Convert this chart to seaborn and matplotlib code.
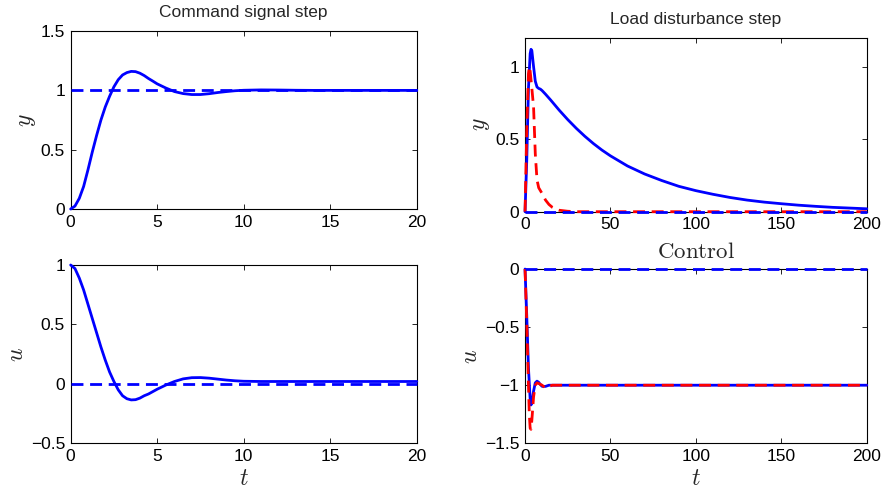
import matplotlib
matplotlib.use("Agg")
import matplotlib.pyplot as plt
from matplotlib.ticker import FuncFormatter, FixedLocator
import seaborn as sns

# ---------------- Command signal step ----------------
t_cmd = [0, 0.25, 0.5, 0.75, 1.0, 1.25, 1.5, 1.75, 2.0, 2.25, 2.5, 2.75,
         3.0, 3.25, 3.5, 3.75, 4.0, 4.25, 4.5, 4.75, 5.0, 5.5, 6.0, 6.5,
         7.0, 7.5, 8.0, 8.5, 9.0, 9.5, 10, 11, 12, 13, 14, 15, 16, 17, 18,
         19, 20]
y_cmd = [0.0, 0.025, 0.09, 0.19, 0.33, 0.48, 0.62, 0.75, 0.86, 0.95, 1.03,
         1.09, 1.13, 1.15, 1.16, 1.158, 1.145, 1.125, 1.10, 1.078, 1.055,
         1.02, 0.99, 0.973, 0.965, 0.965, 0.972, 0.982, 0.99, 0.997, 1.001,
         1.004, 1.003, 1.001, 1.0, 1.0, 1.0, 1.0, 1.0, 1.0, 1.0]
u_cmd = [1.0, 0.97, 0.89, 0.79, 0.67, 0.55, 0.43, 0.31, 0.20, 0.10, 0.02,
         -0.05, -0.10, -0.125, -0.135, -0.133, -0.12, -0.10, -0.085,
         -0.065, -0.045, -0.01, 0.02, 0.042, 0.052, 0.053, 0.048, 0.04,
         0.032, 0.026, 0.022, 0.02, 0.02, 0.02, 0.02, 0.02, 0.02, 0.02,
         0.02, 0.02, 0.02]
t_cmd_ref = [0, 20]
r_cmd = [1, 1]
uff_cmd = [0, 0]

# ---------------- Load disturbance step ----------------
t_load_a = [0, 1, 2, 3, 3.5, 4, 5, 6, 7, 8, 9, 10, 12, 15, 20, 25, 30, 35,
            40, 45, 50, 60, 70, 80, 90, 100, 110, 120, 130, 140, 150, 160,
            170, 180, 190, 200]
y_load_a = [0.0, 0.35, 0.85, 1.09, 1.12, 1.11, 1.0, 0.9, 0.86, 0.85, 0.845,
            0.835, 0.81, 0.77, 0.70, 0.635, 0.575, 0.52, 0.47, 0.425, 0.385,
            0.315, 0.26, 0.215, 0.175, 0.145, 0.12, 0.098, 0.08, 0.066,
            0.055, 0.045, 0.037, 0.03, 0.025, 0.02]
t_load_b = [0, 1, 2, 2.5, 3, 4, 5, 6, 7, 8, 9, 10, 12, 14, 16, 18, 20, 25,
            30, 200]
y_load_b = [0.0, 0.55, 0.95, 1.0, 0.97, 0.85, 0.72, 0.40, 0.22, 0.165,
            0.145, 0.125, 0.08, 0.05, 0.03, 0.018, 0.01, 0.003, 0.0, 0.0]

t_ctl_a = [0, 1, 2, 3, 3.5, 4, 5, 6, 7, 8, 9, 10, 12, 14, 200]
u_ctl_a = [0.0, -0.4, -0.85, -1.12, -1.17, -1.15, -1.05, -0.98, -0.965,
           -0.975, -0.995, -1.01, -1.01, -1.0, -1.0]
t_ctl_b = [0, 1, 2, 2.5, 3, 3.5, 4, 5, 6, 7, 8, 10, 12, 14, 16, 200]
u_ctl_b = [0.0, -0.45, -1.0, -1.25, -1.37, -1.38, -1.3, -1.1, -1.0, -0.98,
           -0.985, -1.0, -1.025, -1.01, -1.0, -1.0]
t_load_ref = [0, 200]
r_load = [0, 0]

# ---------------- style ----------------
sns.set_style("ticks")
plt.rcParams["font.family"] = ["Liberation Sans", "DejaVu Sans"]
plt.rcParams["mathtext.fontset"] = "cm"
plt.rcParams["xtick.direction"] = "in"
plt.rcParams["ytick.direction"] = "in"
plt.rcParams["xtick.top"] = True
plt.rcParams["ytick.right"] = True
plt.rcParams["axes.linewidth"] = 0.8
plt.rcParams["axes.edgecolor"] = "black"

BLUE = "#0000ff"
RED = "#ff0000"
LW = 2.0
DASH = (0, (4.3, 2.4))
TICK_FS = 12.5

fig = plt.figure(figsize=(8.83, 4.93), dpi=100)
ax_tl = fig.add_axes([0.080, 0.576, 0.392, 0.361])
ax_tr = fig.add_axes([0.5946, 0.5706, 0.387, 0.353])
ax_bl = fig.add_axes([0.080, 0.1008, 0.392, 0.3617])
ax_br = fig.add_axes([0.5946, 0.1008, 0.387, 0.3535])

fmt = FuncFormatter(lambda v, p: ("%g" % v).replace("-", "\u2212"))


def line(ax, x, y, color, dashed=False):
    kw = dict(color=color, linewidth=LW, clip_on=False, zorder=3,
              estimator=None, sort=False)
    if dashed:
        kw["linestyle"] = DASH
    sns.lineplot(x=x, y=y, ax=ax, **kw)


# top left: output for command signal step
line(ax_tl, t_cmd_ref, r_cmd, BLUE, dashed=True)
line(ax_tl, t_cmd, y_cmd, BLUE)
ax_tl.set_xlim(0, 20)
ax_tl.set_ylim(0, 1.5)
ax_tl.yaxis.set_major_locator(FixedLocator([0, 0.5, 1, 1.5]))
ax_tl.set_title("Command signal step", fontsize=12.5, pad=10)
ax_tl.set_ylabel(r"$y$", fontsize=17, labelpad=2)

# bottom left: control signal for command signal step
line(ax_bl, t_cmd_ref, uff_cmd, BLUE, dashed=True)
line(ax_bl, t_cmd, u_cmd, BLUE)
ax_bl.set_xlim(0, 20)
ax_bl.set_ylim(-0.5, 1)
ax_bl.yaxis.set_major_locator(FixedLocator([-0.5, 0, 0.5, 1]))
ax_bl.set_ylabel(r"$u$", fontsize=17, labelpad=2)
ax_bl.set_xlabel(r"$t$", fontsize=17, labelpad=3)

# top right: output for load disturbance step
line(ax_tr, t_load_a, y_load_a, BLUE)
line(ax_tr, t_load_b, y_load_b, RED, dashed=True)
line(ax_tr, t_load_ref, r_load, BLUE, dashed=True)
ax_tr.set_xlim(0, 200)
ax_tr.set_ylim(0, 1.2)
ax_tr.yaxis.set_major_locator(FixedLocator([0, 0.5, 1]))
ax_tr.set_title("Load disturbance step", fontsize=12.5, pad=10)
ax_tr.set_ylabel(r"$y$", fontsize=17, labelpad=2)

# bottom right: control signal for load disturbance step
line(ax_br, t_ctl_a, u_ctl_a, BLUE)
line(ax_br, t_ctl_b, u_ctl_b, RED, dashed=True)
line(ax_br, t_load_ref, r_load, BLUE, dashed=True)
ax_br.set_xlim(0, 200)
ax_br.set_ylim(-1.5, 0)
ax_br.yaxis.set_major_locator(FixedLocator([-1.5, -1, -0.5, 0]))
ax_br.set_title(r"$\mathrm{Control}$", fontsize=16.5, pad=8)
ax_br.set_ylabel(r"$u$", fontsize=17, labelpad=2)
ax_br.set_xlabel(r"$t$", fontsize=17, labelpad=3)

for ax in (ax_tl, ax_tr, ax_bl, ax_br):
    ax.yaxis.set_major_formatter(fmt)
    ax.xaxis.set_major_formatter(fmt)
    ax.tick_params(axis="both", which="major", labelsize=TICK_FS,
                   length=3.5, width=0.6, colors="black", pad=4)
    for s in ax.spines.values():
        s.set_visible(True)
        s.set_color("black")
    ax.set_facecolor("white")

fig.savefig("out.png", dpi=100)
